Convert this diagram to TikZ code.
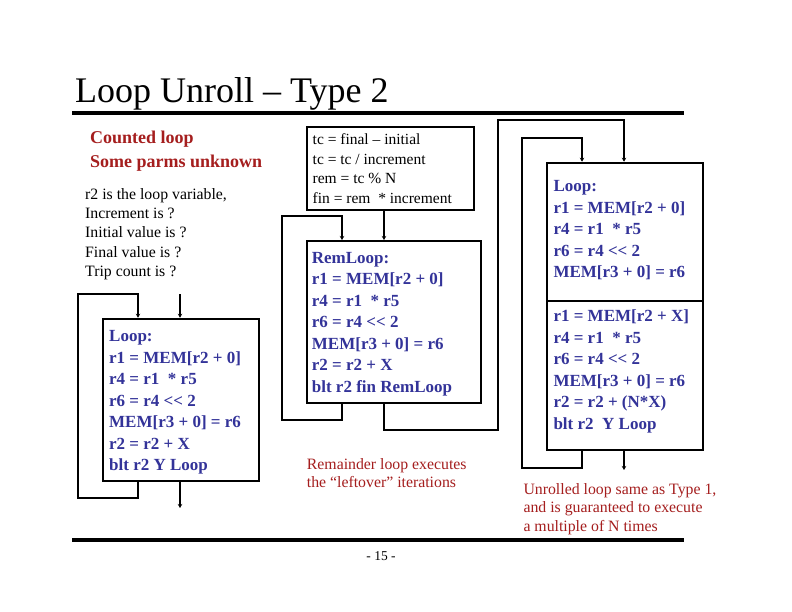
\documentclass[tikz,border=0pt]{standalone}
\usepackage{fontspec}
\setmainfont{Liberation Serif}
\usetikzlibrary{arrows.meta}
\definecolor{codeblue}{RGB}{51,51,153}
\definecolor{notered}{RGB}{165,30,30}
\newcommand{\mylines}[1]{\begin{tabular}[t]{@{}l@{}}#1\end{tabular}}
\newcommand{\shl}{<\kern0pt<}
\begin{document}
\begin{tikzpicture}[x=1pt,y=-1pt,
  box/.style={draw, line width=2pt, rectangle, inner sep=0pt, anchor=north west},
  conn/.style={line width=2pt, -{Stealth[length=4pt,width=4.5pt]}},
  code/.style={anchor=base west, inner sep=0pt, text=codeblue, font=\fontsize{17}{21.5}\selectfont\bfseries},
  plain/.style={anchor=base west, inner sep=0pt, font=\fontsize{15.8}{19.3}\selectfont},
  note/.style={anchor=base west, inner sep=0pt, text=notered, font=\fontsize{15.8}{18.5}\selectfont},
  rule/.style={line width=4pt}]
\useasboundingbox (0,0) rectangle (792,612);
\fill[white] (0,0) rectangle (792,612);

% title and rules
\node[anchor=base west, inner sep=0pt, font=\fontsize{36}{40}\selectfont] (title) at (75,103) {Loop Unroll – Type 2};
\draw[rule] (72,113) -- (684,113);
\draw[rule] (72,540) -- (684,540);
\node[anchor=base, inner sep=0pt, font=\fontsize{13.5}{16}\selectfont] (page) at (381,560) {- 15 -};

% left texts
\node[anchor=base west, inner sep=0pt, text=notered, font=\fontsize{18}{23.3}\selectfont\bfseries] (head) at (90,144)
  {\mylines{Counted loop\\Some parms unknown}};
\node[plain] (info) at (85,199.3)
  {\mylines{r2 is the loop variable,\\Increment is ?\\Initial value is ?\\Final value is ?\\Trip count is ?}};

% boxes
\node[box, minimum width=156.3pt, minimum height=162.3pt] (lbox) at (101.7,317.7) {};
\node[box, minimum width=167.3pt, minimum height=83.3pt] (tbox) at (305.7,126) {};
\node[box, minimum width=174.3pt, minimum height=161.7pt] (rbox) at (305.7,240) {};
\node[box, minimum width=156pt, minimum height=138.3pt] (ubox1) at (545.7,161.7) {};
\node[box, minimum width=156pt, minimum height=149pt] (ubox2) at (545.7,300) {};

% box texts
\node[code] (ltext) at (109,341.7)
  {\mylines{Loop:\\r1 = MEM[r2 + 0]\\r4 = r1 \ * r5\\r6 = r4 \shl\ 2\\MEM[r3 + 0] = r6\\r2 = r2 + X\\blt r2 Y Loop}};
\node[plain, font=\fontsize{15.5}{19.4}\selectfont] (ttext) at (312.5,145)
  {\mylines{tc = final – initial\\tc = tc / increment\\rem = tc \% N\\fin = rem \ * increment}};
\node[code] (rtext) at (311.7,263.3)
  {\mylines{RemLoop:\\r1 = MEM[r2 + 0]\\r4 = r1 \ * r5\\r6 = r4 \shl\ 2\\MEM[r3 + 0] = r6\\r2 = r2 + X\\blt r2 fin RemLoop}};
\node[code] (utext1) at (553.3,191.7)
  {\mylines{Loop:\\r1 = MEM[r2 + 0]\\r4 = r1 \ * r5\\r6 = r4 \shl\ 2\\MEM[r3 + 0] = r6}};
\node[code] (utext2) at (553.3,321.7)
  {\mylines{r1 = MEM[r2 + X]\\r4 = r1 \ * r5\\r6 = r4 \shl\ 2\\MEM[r3 + 0] = r6\\r2 = r2 + (N*X)\\blt r2 \ Y Loop}};

% notes
\node[note] (remnote) at (306.7,469)
  {\mylines{Remainder loop executes\\the “leftover” iterations}};
\node[note] (unote) at (523.3,494.3)
  {\mylines{Unrolled loop same as Type 1,\\and is guaranteed to execute\\a multiple of N times}};

% coordinates for connectors
\coordinate (lin) at (180,294);
\coordinate (lout) at (180,508);
\coordinate (lb1) at (138,498);
\coordinate (lb2) at (78,294);
\coordinate (mx) at (384,0);
\coordinate (mb1) at (342,420);
\coordinate (mb2) at (282,215.7);
\coordinate (mo1) at (384,430);
\coordinate (mo2) at (498,120);
\coordinate (ux) at (624,0);
\coordinate (ub1) at (582,468);
\coordinate (ub2) at (522,138);
\coordinate (uout) at (624,470);

% left loop
\draw[conn] (lin) -- (lin |- lbox.north);
\draw[conn] (lbox.south -| lb1) -- (lb1) -| (lb2) -| (lbox.north -| lb1);
\draw[conn] (lbox.south -| lin) -- (lout);

% middle
\draw[conn] (tbox.south -| mx) -- (rbox.north -| mx);
\draw[conn] (rbox.south -| mb1) -- (mb1) -| (mb2) -| (rbox.north -| mb1);
\draw[conn] (rbox.south -| mx) -- (mo1) -| (mo2) -| (ubox1.north -| ux);

% right
\draw[conn] (ubox2.south -| ub1) -- (ub1) -| (ub2) -| (ubox1.north -| ub1);
\draw[conn] (ubox2.south -| ux) -- (uout);
\end{tikzpicture}
\end{document}
